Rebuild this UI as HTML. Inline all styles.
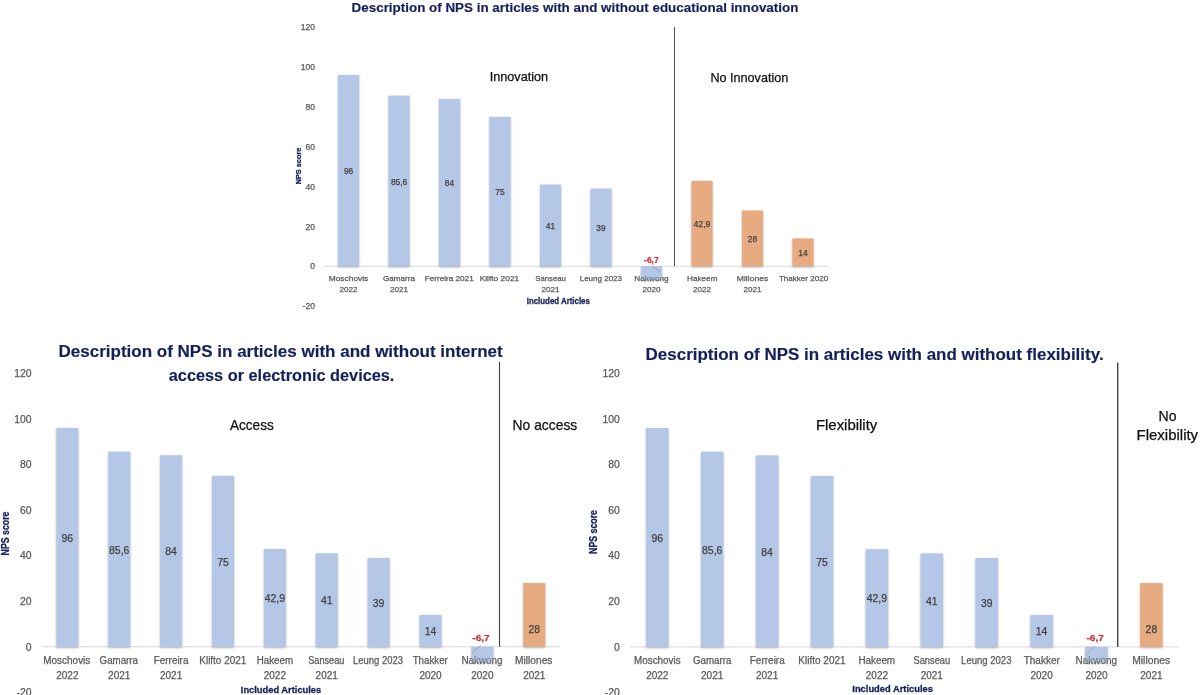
<!DOCTYPE html>
<html><head><meta charset="utf-8"><title>NPS charts</title>
<style>
html,body{margin:0;padding:0;background:#ffffff;width:1200px;height:695px;overflow:hidden;}
svg{display:block;font-family:"Liberation Sans", sans-serif;will-change:transform;}
</style></head><body>
<svg width="1200" height="695" viewBox="0 0 1200 695">
<defs><filter id="sh" x="-30%" y="-10%" width="160%" height="130%"><feDropShadow dx="0" dy="1.0" stdDeviation="0.95" flood-color="#808080" flood-opacity="0.6"/></filter></defs>
<rect x="0" y="0" width="1200" height="695" fill="#ffffff"/>
<text x="315.00" y="30.24" font-size="8.6" fill="#595959" stroke="#595959" stroke-width="0.25" text-anchor="end">120</text>
<text x="315.00" y="70.10" font-size="8.6" fill="#595959" stroke="#595959" stroke-width="0.25" text-anchor="end">100</text>
<text x="315.00" y="109.96" font-size="8.6" fill="#595959" stroke="#595959" stroke-width="0.25" text-anchor="end">80</text>
<text x="315.00" y="149.82" font-size="8.6" fill="#595959" stroke="#595959" stroke-width="0.25" text-anchor="end">60</text>
<text x="315.00" y="189.68" font-size="8.6" fill="#595959" stroke="#595959" stroke-width="0.25" text-anchor="end">40</text>
<text x="315.00" y="229.54" font-size="8.6" fill="#595959" stroke="#595959" stroke-width="0.25" text-anchor="end">20</text>
<text x="315.00" y="269.40" font-size="8.6" fill="#595959" stroke="#595959" stroke-width="0.25" text-anchor="end">0</text>
<text x="315.00" y="309.26" font-size="8.6" fill="#595959" stroke="#595959" stroke-width="0.25" text-anchor="end">-20</text>
<line x1="323.30" y1="266.30" x2="828.20" y2="266.30" stroke="#d9d9d9" stroke-width="1"/>
<rect x="338.05" y="74.97" width="21.00" height="191.33" fill="#b4c7e7" filter="url(#sh)"/>
<rect x="388.54" y="95.70" width="21.00" height="170.60" fill="#b4c7e7" filter="url(#sh)"/>
<rect x="439.03" y="98.89" width="21.00" height="167.41" fill="#b4c7e7" filter="url(#sh)"/>
<rect x="489.51" y="116.83" width="21.00" height="149.47" fill="#b4c7e7" filter="url(#sh)"/>
<rect x="540.00" y="184.59" width="21.00" height="81.71" fill="#b4c7e7" filter="url(#sh)"/>
<rect x="590.50" y="188.57" width="21.00" height="77.73" fill="#b4c7e7" filter="url(#sh)"/>
<rect x="640.99" y="266.30" width="21.00" height="13.35" fill="#b4c7e7" filter="url(#sh)"/>
<rect x="691.48" y="180.80" width="21.00" height="85.50" fill="#e6ab80" filter="url(#sh)"/>
<rect x="741.97" y="210.50" width="21.00" height="55.80" fill="#e6ab80" filter="url(#sh)"/>
<rect x="792.46" y="238.40" width="21.00" height="27.90" fill="#e6ab80" filter="url(#sh)"/>
<line x1="674.50" y1="27.00" x2="674.50" y2="266.30" stroke="#555555" stroke-width="1.0"/>
<text x="328.70" y="281.30" font-size="8.1" fill="#595959" stroke="#595959" stroke-width="0.25" textLength="39.60" lengthAdjust="spacingAndGlyphs">Moschovis</text>
<text x="348.55" y="292.20" font-size="8.1" fill="#595959" stroke="#595959" stroke-width="0.25" text-anchor="middle">2022</text>
<text x="383.00" y="281.30" font-size="8.1" fill="#595959" stroke="#595959" stroke-width="0.25" textLength="32.00" lengthAdjust="spacingAndGlyphs">Gamarra</text>
<text x="399.04" y="292.20" font-size="8.1" fill="#595959" stroke="#595959" stroke-width="0.25" text-anchor="middle">2021</text>
<text x="424.70" y="281.30" font-size="8.1" fill="#595959" stroke="#595959" stroke-width="0.25" textLength="49.00" lengthAdjust="spacingAndGlyphs">Ferreira 2021</text>
<text x="479.70" y="281.30" font-size="8.1" fill="#595959" stroke="#595959" stroke-width="0.25" textLength="39.50" lengthAdjust="spacingAndGlyphs">Klifto 2021</text>
<text x="535.30" y="281.30" font-size="8.1" fill="#595959" stroke="#595959" stroke-width="0.25" textLength="30.50" lengthAdjust="spacingAndGlyphs">Sanseau</text>
<text x="550.50" y="292.20" font-size="8.1" fill="#595959" stroke="#595959" stroke-width="0.25" text-anchor="middle">2021</text>
<text x="579.70" y="281.30" font-size="8.1" fill="#595959" stroke="#595959" stroke-width="0.25" textLength="42.30" lengthAdjust="spacingAndGlyphs">Leung 2023</text>
<text x="634.30" y="281.30" font-size="8.1" fill="#595959" stroke="#595959" stroke-width="0.25" textLength="34.40" lengthAdjust="spacingAndGlyphs">Nakwong</text>
<text x="651.49" y="292.20" font-size="8.1" fill="#595959" stroke="#595959" stroke-width="0.25" text-anchor="middle">2020</text>
<text x="687.00" y="281.30" font-size="8.1" fill="#595959" stroke="#595959" stroke-width="0.25" textLength="30.50" lengthAdjust="spacingAndGlyphs">Hakeem</text>
<text x="701.98" y="292.20" font-size="8.1" fill="#595959" stroke="#595959" stroke-width="0.25" text-anchor="middle">2022</text>
<text x="736.80" y="281.30" font-size="8.1" fill="#595959" stroke="#595959" stroke-width="0.25" textLength="31.50" lengthAdjust="spacingAndGlyphs">Millones</text>
<text x="752.47" y="292.20" font-size="8.1" fill="#595959" stroke="#595959" stroke-width="0.25" text-anchor="middle">2021</text>
<text x="778.90" y="281.30" font-size="8.1" fill="#595959" stroke="#595959" stroke-width="0.25" textLength="49.30" lengthAdjust="spacingAndGlyphs">Thakker 2020</text>
<rect x="640.99" y="266.30" width="21.00" height="13.35" fill="#b4c7e7" opacity="0.4"/>
<text x="348.55" y="174.16" font-size="8.4" fill="#404040" stroke="#404040" stroke-width="0.25" text-anchor="middle">96</text>
<text x="399.04" y="184.53" font-size="8.4" fill="#404040" stroke="#404040" stroke-width="0.25" text-anchor="middle">85,6</text>
<text x="449.53" y="186.12" font-size="8.4" fill="#404040" stroke="#404040" stroke-width="0.25" text-anchor="middle">84</text>
<text x="500.01" y="195.09" font-size="8.4" fill="#404040" stroke="#404040" stroke-width="0.25" text-anchor="middle">75</text>
<text x="550.50" y="228.97" font-size="8.4" fill="#404040" stroke="#404040" stroke-width="0.25" text-anchor="middle">41</text>
<text x="601.00" y="230.96" font-size="8.4" fill="#404040" stroke="#404040" stroke-width="0.25" text-anchor="middle">39</text>
<text x="651.40" y="263.20" font-size="8.4" fill="#d6212b" stroke="#d6212b" stroke-width="0.15" font-weight="bold" text-anchor="middle" textLength="14.60" lengthAdjust="spacingAndGlyphs">-6,7</text>
<line x1="652.20" y1="266.40" x2="660.70" y2="272.20" stroke="#a89498" stroke-width="0.7"/>
<text x="701.98" y="227.08" font-size="8.4" fill="#404040" stroke="#404040" stroke-width="0.25" text-anchor="middle">42,9</text>
<text x="752.47" y="241.93" font-size="8.4" fill="#404040" stroke="#404040" stroke-width="0.25" text-anchor="middle">28</text>
<text x="802.96" y="255.88" font-size="8.4" fill="#404040" stroke="#404040" stroke-width="0.25" text-anchor="middle">14</text>
<text x="31.60" y="376.94" font-size="10.4" fill="#595959" stroke="#595959" stroke-width="0.25" text-anchor="end">120</text>
<text x="31.60" y="422.54" font-size="10.4" fill="#595959" stroke="#595959" stroke-width="0.25" text-anchor="end">100</text>
<text x="31.60" y="468.14" font-size="10.4" fill="#595959" stroke="#595959" stroke-width="0.25" text-anchor="end">80</text>
<text x="31.60" y="513.74" font-size="10.4" fill="#595959" stroke="#595959" stroke-width="0.25" text-anchor="end">60</text>
<text x="31.60" y="559.34" font-size="10.4" fill="#595959" stroke="#595959" stroke-width="0.25" text-anchor="end">40</text>
<text x="31.60" y="604.94" font-size="10.4" fill="#595959" stroke="#595959" stroke-width="0.25" text-anchor="end">20</text>
<text x="31.60" y="650.54" font-size="10.4" fill="#595959" stroke="#595959" stroke-width="0.25" text-anchor="end">0</text>
<text x="31.60" y="696.14" font-size="10.4" fill="#595959" stroke="#595959" stroke-width="0.25" text-anchor="end">-20</text>
<line x1="41.40" y1="646.80" x2="560.20" y2="646.80" stroke="#d9d9d9" stroke-width="1"/>
<rect x="56.39" y="427.92" width="21.90" height="218.88" fill="#b4c7e7" filter="url(#sh)"/>
<rect x="108.27" y="451.63" width="21.90" height="195.17" fill="#b4c7e7" filter="url(#sh)"/>
<rect x="160.15" y="455.28" width="21.90" height="191.52" fill="#b4c7e7" filter="url(#sh)"/>
<rect x="212.03" y="475.80" width="21.90" height="171.00" fill="#b4c7e7" filter="url(#sh)"/>
<rect x="263.91" y="548.99" width="21.90" height="97.81" fill="#b4c7e7" filter="url(#sh)"/>
<rect x="315.79" y="553.32" width="21.90" height="93.48" fill="#b4c7e7" filter="url(#sh)"/>
<rect x="367.67" y="557.88" width="21.90" height="88.92" fill="#b4c7e7" filter="url(#sh)"/>
<rect x="419.55" y="614.88" width="21.90" height="31.92" fill="#b4c7e7" filter="url(#sh)"/>
<rect x="471.43" y="646.80" width="21.90" height="15.28" fill="#b4c7e7" filter="url(#sh)"/>
<rect x="523.31" y="582.96" width="21.90" height="63.84" fill="#e6ab80" filter="url(#sh)"/>
<line x1="499.50" y1="362.00" x2="499.50" y2="646.80" stroke="#404040" stroke-width="1.1"/>
<text x="43.30" y="664.00" font-size="10" fill="#595959" stroke="#595959" stroke-width="0.25" textLength="47.00" lengthAdjust="spacingAndGlyphs">Moschovis</text>
<text x="67.34" y="678.50" font-size="10" fill="#595959" stroke="#595959" stroke-width="0.25" text-anchor="middle">2022</text>
<text x="99.60" y="664.00" font-size="10" fill="#595959" stroke="#595959" stroke-width="0.25" textLength="38.30" lengthAdjust="spacingAndGlyphs">Gamarra</text>
<text x="119.22" y="678.50" font-size="10" fill="#595959" stroke="#595959" stroke-width="0.25" text-anchor="middle">2021</text>
<text x="153.80" y="664.00" font-size="10" fill="#595959" stroke="#595959" stroke-width="0.25" textLength="34.60" lengthAdjust="spacingAndGlyphs">Ferreira</text>
<text x="171.10" y="678.50" font-size="10" fill="#595959" stroke="#595959" stroke-width="0.25" text-anchor="middle">2021</text>
<text x="199.30" y="664.00" font-size="10" fill="#595959" stroke="#595959" stroke-width="0.25" textLength="47.00" lengthAdjust="spacingAndGlyphs">Klifto 2021</text>
<text x="256.70" y="664.00" font-size="10" fill="#595959" stroke="#595959" stroke-width="0.25" textLength="36.40" lengthAdjust="spacingAndGlyphs">Hakeem</text>
<text x="274.86" y="678.50" font-size="10" fill="#595959" stroke="#595959" stroke-width="0.25" text-anchor="middle">2022</text>
<text x="308.20" y="664.00" font-size="10" fill="#595959" stroke="#595959" stroke-width="0.25" textLength="36.20" lengthAdjust="spacingAndGlyphs">Sanseau</text>
<text x="326.74" y="678.50" font-size="10" fill="#595959" stroke="#595959" stroke-width="0.25" text-anchor="middle">2021</text>
<text x="353.10" y="664.00" font-size="10" fill="#595959" stroke="#595959" stroke-width="0.25" textLength="49.80" lengthAdjust="spacingAndGlyphs">Leung 2023</text>
<text x="412.70" y="664.00" font-size="10" fill="#595959" stroke="#595959" stroke-width="0.25" textLength="35.10" lengthAdjust="spacingAndGlyphs">Thakker</text>
<text x="430.50" y="678.50" font-size="10" fill="#595959" stroke="#595959" stroke-width="0.25" text-anchor="middle">2020</text>
<text x="461.40" y="664.00" font-size="10" fill="#595959" stroke="#595959" stroke-width="0.25" textLength="41.20" lengthAdjust="spacingAndGlyphs">Nakwong</text>
<text x="482.38" y="678.50" font-size="10" fill="#595959" stroke="#595959" stroke-width="0.25" text-anchor="middle">2020</text>
<text x="515.00" y="664.00" font-size="10" fill="#595959" stroke="#595959" stroke-width="0.25" textLength="37.40" lengthAdjust="spacingAndGlyphs">Millones</text>
<text x="534.26" y="678.50" font-size="10" fill="#595959" stroke="#595959" stroke-width="0.25" text-anchor="middle">2021</text>
<rect x="471.43" y="646.80" width="21.90" height="15.28" fill="#b4c7e7" opacity="0.4"/>
<text x="67.34" y="541.73" font-size="10.4" fill="#404040" stroke="#404040" stroke-width="0.25" text-anchor="middle">96</text>
<text x="119.22" y="553.58" font-size="10.4" fill="#404040" stroke="#404040" stroke-width="0.25" text-anchor="middle">85,6</text>
<text x="171.10" y="555.41" font-size="10.4" fill="#404040" stroke="#404040" stroke-width="0.25" text-anchor="middle">84</text>
<text x="222.98" y="565.67" font-size="10.4" fill="#404040" stroke="#404040" stroke-width="0.25" text-anchor="middle">75</text>
<text x="274.86" y="602.26" font-size="10.4" fill="#404040" stroke="#404040" stroke-width="0.25" text-anchor="middle">42,9</text>
<text x="326.74" y="604.43" font-size="10.4" fill="#404040" stroke="#404040" stroke-width="0.25" text-anchor="middle">41</text>
<text x="378.62" y="606.71" font-size="10.4" fill="#404040" stroke="#404040" stroke-width="0.25" text-anchor="middle">39</text>
<text x="430.50" y="635.21" font-size="10.4" fill="#404040" stroke="#404040" stroke-width="0.25" text-anchor="middle">14</text>
<text x="481.00" y="641.00" font-size="9.4" fill="#d6212b" stroke="#d6212b" stroke-width="0.15" font-weight="bold" text-anchor="middle" textLength="17.40" lengthAdjust="spacingAndGlyphs">-6,7</text>
<line x1="480.80" y1="645.40" x2="472.00" y2="653.20" stroke="#a89498" stroke-width="0.7"/>
<text x="534.26" y="633.37" font-size="10.4" fill="#404040" stroke="#404040" stroke-width="0.25" text-anchor="middle">28</text>
<text x="619.90" y="377.04" font-size="10.4" fill="#595959" stroke="#595959" stroke-width="0.25" text-anchor="end">120</text>
<text x="619.90" y="422.64" font-size="10.4" fill="#595959" stroke="#595959" stroke-width="0.25" text-anchor="end">100</text>
<text x="619.90" y="468.24" font-size="10.4" fill="#595959" stroke="#595959" stroke-width="0.25" text-anchor="end">80</text>
<text x="619.90" y="513.84" font-size="10.4" fill="#595959" stroke="#595959" stroke-width="0.25" text-anchor="end">60</text>
<text x="619.90" y="559.44" font-size="10.4" fill="#595959" stroke="#595959" stroke-width="0.25" text-anchor="end">40</text>
<text x="619.90" y="605.04" font-size="10.4" fill="#595959" stroke="#595959" stroke-width="0.25" text-anchor="end">20</text>
<text x="619.90" y="650.64" font-size="10.4" fill="#595959" stroke="#595959" stroke-width="0.25" text-anchor="end">0</text>
<text x="619.90" y="696.24" font-size="10.4" fill="#595959" stroke="#595959" stroke-width="0.25" text-anchor="end">-20</text>
<line x1="629.85" y1="646.90" x2="1178.85" y2="646.90" stroke="#d9d9d9" stroke-width="1"/>
<rect x="646.10" y="428.02" width="22.40" height="218.88" fill="#b4c7e7" filter="url(#sh)"/>
<rect x="701.00" y="451.73" width="22.40" height="195.17" fill="#b4c7e7" filter="url(#sh)"/>
<rect x="755.90" y="455.38" width="22.40" height="191.52" fill="#b4c7e7" filter="url(#sh)"/>
<rect x="810.80" y="475.90" width="22.40" height="171.00" fill="#b4c7e7" filter="url(#sh)"/>
<rect x="865.70" y="549.09" width="22.40" height="97.81" fill="#b4c7e7" filter="url(#sh)"/>
<rect x="920.60" y="553.42" width="22.40" height="93.48" fill="#b4c7e7" filter="url(#sh)"/>
<rect x="975.50" y="557.98" width="22.40" height="88.92" fill="#b4c7e7" filter="url(#sh)"/>
<rect x="1030.40" y="614.98" width="22.40" height="31.92" fill="#b4c7e7" filter="url(#sh)"/>
<rect x="1085.30" y="646.90" width="22.40" height="15.28" fill="#b4c7e7" filter="url(#sh)"/>
<rect x="1140.20" y="583.06" width="22.40" height="63.84" fill="#e6ab80" filter="url(#sh)"/>
<line x1="1117.70" y1="362.60" x2="1117.70" y2="646.90" stroke="#484848" stroke-width="1.4"/>
<text x="634.00" y="664.00" font-size="10" fill="#595959" stroke="#595959" stroke-width="0.25" textLength="46.60" lengthAdjust="spacingAndGlyphs">Moschovis</text>
<text x="657.30" y="678.50" font-size="10" fill="#595959" stroke="#595959" stroke-width="0.25" text-anchor="middle">2022</text>
<text x="693.00" y="664.00" font-size="10" fill="#595959" stroke="#595959" stroke-width="0.25" textLength="38.30" lengthAdjust="spacingAndGlyphs">Gamarra</text>
<text x="712.20" y="678.50" font-size="10" fill="#595959" stroke="#595959" stroke-width="0.25" text-anchor="middle">2021</text>
<text x="749.70" y="664.00" font-size="10" fill="#595959" stroke="#595959" stroke-width="0.25" textLength="35.10" lengthAdjust="spacingAndGlyphs">Ferreira</text>
<text x="767.10" y="678.50" font-size="10" fill="#595959" stroke="#595959" stroke-width="0.25" text-anchor="middle">2021</text>
<text x="798.30" y="664.00" font-size="10" fill="#595959" stroke="#595959" stroke-width="0.25" textLength="47.30" lengthAdjust="spacingAndGlyphs">Klifto 2021</text>
<text x="858.40" y="664.00" font-size="10" fill="#595959" stroke="#595959" stroke-width="0.25" textLength="36.70" lengthAdjust="spacingAndGlyphs">Hakeem</text>
<text x="876.90" y="678.50" font-size="10" fill="#595959" stroke="#595959" stroke-width="0.25" text-anchor="middle">2022</text>
<text x="913.50" y="664.00" font-size="10" fill="#595959" stroke="#595959" stroke-width="0.25" textLength="36.70" lengthAdjust="spacingAndGlyphs">Sanseau</text>
<text x="931.80" y="678.50" font-size="10" fill="#595959" stroke="#595959" stroke-width="0.25" text-anchor="middle">2021</text>
<text x="961.10" y="664.00" font-size="10" fill="#595959" stroke="#595959" stroke-width="0.25" textLength="50.40" lengthAdjust="spacingAndGlyphs">Leung 2023</text>
<text x="1023.70" y="664.00" font-size="10" fill="#595959" stroke="#595959" stroke-width="0.25" textLength="36.10" lengthAdjust="spacingAndGlyphs">Thakker</text>
<text x="1041.60" y="678.50" font-size="10" fill="#595959" stroke="#595959" stroke-width="0.25" text-anchor="middle">2020</text>
<text x="1075.50" y="664.00" font-size="10" fill="#595959" stroke="#595959" stroke-width="0.25" textLength="41.50" lengthAdjust="spacingAndGlyphs">Nakwong</text>
<text x="1096.50" y="678.50" font-size="10" fill="#595959" stroke="#595959" stroke-width="0.25" text-anchor="middle">2020</text>
<text x="1132.20" y="664.00" font-size="10" fill="#595959" stroke="#595959" stroke-width="0.25" textLength="38.00" lengthAdjust="spacingAndGlyphs">Millones</text>
<text x="1151.40" y="678.50" font-size="10" fill="#595959" stroke="#595959" stroke-width="0.25" text-anchor="middle">2021</text>
<rect x="1085.30" y="646.90" width="22.40" height="15.28" fill="#b4c7e7" opacity="0.4"/>
<text x="657.30" y="541.83" font-size="10.4" fill="#404040" stroke="#404040" stroke-width="0.25" text-anchor="middle">96</text>
<text x="712.20" y="553.68" font-size="10.4" fill="#404040" stroke="#404040" stroke-width="0.25" text-anchor="middle">85,6</text>
<text x="767.10" y="555.51" font-size="10.4" fill="#404040" stroke="#404040" stroke-width="0.25" text-anchor="middle">84</text>
<text x="822.00" y="565.77" font-size="10.4" fill="#404040" stroke="#404040" stroke-width="0.25" text-anchor="middle">75</text>
<text x="876.90" y="602.36" font-size="10.4" fill="#404040" stroke="#404040" stroke-width="0.25" text-anchor="middle">42,9</text>
<text x="931.80" y="604.53" font-size="10.4" fill="#404040" stroke="#404040" stroke-width="0.25" text-anchor="middle">41</text>
<text x="986.70" y="606.81" font-size="10.4" fill="#404040" stroke="#404040" stroke-width="0.25" text-anchor="middle">39</text>
<text x="1041.60" y="635.31" font-size="10.4" fill="#404040" stroke="#404040" stroke-width="0.25" text-anchor="middle">14</text>
<text x="1095.20" y="641.00" font-size="9.4" fill="#d6212b" stroke="#d6212b" stroke-width="0.15" font-weight="bold" text-anchor="middle" textLength="17.40" lengthAdjust="spacingAndGlyphs">-6,7</text>
<line x1="1095.30" y1="645.40" x2="1085.60" y2="655.10" stroke="#a89498" stroke-width="0.7"/>
<text x="1151.40" y="633.37" font-size="10.4" fill="#404040" stroke="#404040" stroke-width="0.25" text-anchor="middle">28</text>
<text x="351.60" y="11.70" font-size="12.6" fill="#14205c" stroke="#14205c" stroke-width="0.15" font-weight="bold" textLength="446.80" lengthAdjust="spacingAndGlyphs">Description of NPS in articles with and without educational innovation</text>
<text x="58.50" y="356.60" font-size="16" fill="#14205c" stroke="#14205c" stroke-width="0.15" font-weight="bold" textLength="444.20" lengthAdjust="spacingAndGlyphs">Description of NPS in articles with and without internet</text>
<text x="168.80" y="380.60" font-size="16" fill="#14205c" stroke="#14205c" stroke-width="0.15" font-weight="bold" textLength="225.60" lengthAdjust="spacingAndGlyphs">access or electronic devices.</text>
<text x="645.60" y="360.00" font-size="16" fill="#14205c" stroke="#14205c" stroke-width="0.15" font-weight="bold" textLength="458.00" lengthAdjust="spacingAndGlyphs">Description of NPS in articles with and without flexibility.</text>
<text x="489.70" y="81.00" font-size="12.6" fill="#111111" stroke="#111111" stroke-width="0.25" textLength="58.40" lengthAdjust="spacingAndGlyphs">Innovation</text>
<text x="710.40" y="81.80" font-size="12.6" fill="#111111" stroke="#111111" stroke-width="0.25" textLength="77.90" lengthAdjust="spacingAndGlyphs">No Innovation</text>
<text x="230.00" y="430.30" font-size="14.2" fill="#111111" stroke="#111111" stroke-width="0.25" textLength="43.70" lengthAdjust="spacingAndGlyphs">Access</text>
<text x="512.60" y="430.30" font-size="14.2" fill="#111111" stroke="#111111" stroke-width="0.25" textLength="64.70" lengthAdjust="spacingAndGlyphs">No access</text>
<text x="815.90" y="430.30" font-size="14.2" fill="#111111" stroke="#111111" stroke-width="0.25" textLength="61.40" lengthAdjust="spacingAndGlyphs">Flexibility</text>
<text x="1158.50" y="420.90" font-size="14.2" fill="#111111" stroke="#111111" stroke-width="0.25" textLength="18.00" lengthAdjust="spacingAndGlyphs">No</text>
<text x="1136.60" y="439.60" font-size="14.2" fill="#111111" stroke="#111111" stroke-width="0.25" textLength="61.50" lengthAdjust="spacingAndGlyphs">Flexibility</text>
<text x="0" y="0" font-size="7.9" fill="#14205c" stroke="#14205c" stroke-width="0.3" font-weight="bold" text-anchor="middle" textLength="36.7" lengthAdjust="spacingAndGlyphs" transform="translate(301.24,166.00) rotate(-90)">NPS score</text>
<text x="0" y="0" font-size="10.4" fill="#14205c" stroke="#14205c" stroke-width="0.3" font-weight="bold" text-anchor="middle" textLength="43.8" lengthAdjust="spacingAndGlyphs" transform="translate(9.19,533.50) rotate(-90)">NPS score</text>
<text x="0" y="0" font-size="10.4" fill="#14205c" stroke="#14205c" stroke-width="0.3" font-weight="bold" text-anchor="middle" textLength="43.9" lengthAdjust="spacingAndGlyphs" transform="translate(597.34,532.00) rotate(-90)">NPS score</text>
<text x="526.70" y="303.70" font-size="8.7" fill="#14205c" stroke="#14205c" stroke-width="0.3" font-weight="bold" textLength="63.20" lengthAdjust="spacingAndGlyphs">Included Articles</text>
<text x="240.80" y="693.30" font-size="9.8" fill="#14205c" stroke="#14205c" stroke-width="0.3" font-weight="bold" textLength="80.40" lengthAdjust="spacingAndGlyphs">Included Articules</text>
<text x="852.30" y="691.70" font-size="9.8" fill="#14205c" stroke="#14205c" stroke-width="0.3" font-weight="bold" textLength="80.60" lengthAdjust="spacingAndGlyphs">Included Articules</text>
</svg>
</body></html>
